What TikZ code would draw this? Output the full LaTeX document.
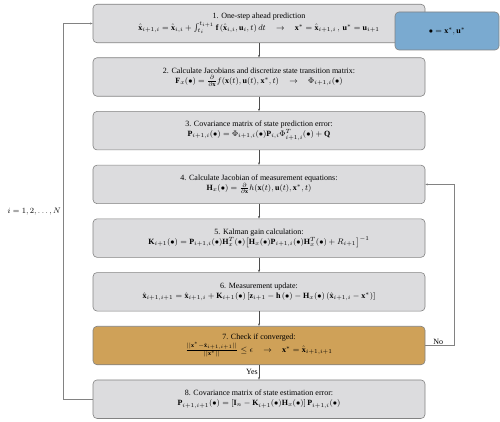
\documentclass[tikz,border=0pt]{standalone}
\usepackage{amsmath,amssymb}
\usepackage{fontspec}
\setmainfont{Liberation Serif}
\usetikzlibrary{arrows.meta}
\definecolor{boxgray}{RGB}{220,220,222}
\definecolor{boxline}{RGB}{130,130,130}
\definecolor{orangebox}{RGB}{207,161,88}
\definecolor{bluebox}{RGB}{122,170,208}
\begin{document}
\begin{tikzpicture}[x=1pt,y=1pt,
  stepbox/.style={draw=boxline, line width=0.6pt, fill=boxgray, rounded corners=4pt,
    minimum width=332pt, minimum height=38.5pt, align=center, inner sep=1pt,
    font=\fontsize{8}{10}\selectfont},
  conn/.style={draw=black!70, line width=0.5pt, -{Stealth[length=2.5pt,width=2pt]}},
  loopline/.style={draw=boxline, line width=0.6pt, -{Stealth[length=2.5pt,width=2pt]}},
  lbl/.style={font=\fontsize{8}{9.6}\selectfont, inner sep=1pt}]
\useasboundingbox (0,0) rectangle (500,-422);
\def\bul{\bullet}
\node[stepbox] (s1) at (259,-23.5) {1. One-step ahead prediction\\
 $\hat{\mathbf{x}}_{i+1,i}=\hat{\mathbf{x}}_{i,i}+\int_{t_i}^{t_{i+1}}\mathbf{f}\left(\hat{\mathbf{x}}_{i,i},\mathbf{u}_i,t\right)dt\quad\rightarrow\quad\mathbf{x}^*=\hat{\mathbf{x}}_{i+1,i}\,,\,\mathbf{u}^*=\mathbf{u}_{i+1}$};
\node[stepbox] (s2) at (259,-77) {2. Calculate Jacobians and discretize state transition matrix:\\
 $\mathbf{F}_x(\bul)=\frac{\partial}{\partial\mathbf{x}}f(\mathbf{x}(t),\mathbf{u}(t),\mathbf{x}^*,t)\quad\rightarrow\quad\Phi_{i+1,i}(\bul)$};
\node[stepbox] (s3) at (259,-130.7) {3. Covariance matrix of state prediction error:\\
 $\mathbf{P}_{i+1,i}(\bul)=\Phi_{i+1,i}(\bul)\mathbf{P}_{i,i}\Phi_{i+1,i}^{T}(\bul)+\mathbf{Q}$};
\node[stepbox] (s4) at (259,-184.4) {4. Calculate Jacobian of measurement equations:\\
 $\mathbf{H}_x(\bul)=\frac{\partial}{\partial\mathbf{x}}h(\mathbf{x}(t),\mathbf{u}(t),\mathbf{x}^*,t)$};
\node[stepbox] (s5) at (259,-238.1) {5. Kalman gain calculation:\\
 $\mathbf{K}_{i+1}(\bul)=\mathbf{P}_{i+1,i}(\bul)\mathbf{H}_x^T(\bul)\big[\mathbf{H}_x(\bul)\mathbf{P}_{i+1,i}(\bul)\mathbf{H}_x^T(\bul)+R_{i+1}\big]^{-1}$};
\node[stepbox] (s6) at (259,-291.8) {6. Measurement update:\\
 $\hat{\mathbf{x}}_{i+1,i+1}=\hat{\mathbf{x}}_{i+1,i}+\mathbf{K}_{i+1}(\bul)\left[\mathbf{z}_{i+1}-\mathbf{h}\left(\bul\right)-\mathbf{H}_x(\bul)\left(\hat{\mathbf{x}}_{i+1,i}-\mathbf{x}^*\right)\right]$};
\node[stepbox, fill=orangebox] (s7) at (259,-345.5) {7. Check if converged:\\
 $\frac{||\mathbf{x}^*-\hat{\mathbf{x}}_{i+1,i+1}||}{||\mathbf{x}^*||}\leq\epsilon\quad\rightarrow\quad\mathbf{x}^*=\hat{\mathbf{x}}_{i+1,i+1}$};
\node[stepbox] (s8) at (259,-399.2) {8. Covariance matrix of state estimation error:\\
 $\mathbf{P}_{i+1,i+1}(\bul)=\left[\mathbf{I}_n-\mathbf{K}_{i+1}(\bul)\mathbf{H}_x(\bul)\right]\mathbf{P}_{i+1,i}(\bul)$};
\node[stepbox, fill=bluebox, minimum width=104pt, minimum height=38pt] (blue) at (447,-31) {$\bul=\mathbf{x}^*,\mathbf{u}^*$};
\draw[conn] (s1) -- (s2);
\draw[conn] (s2) -- (s3);
\draw[conn] (s3) -- (s4);
\draw[conn] (s4) -- (s5);
\draw[conn] (s5) -- (s6);
\draw[conn] (s6) -- (s7);
\draw[conn] (s7) -- node[lbl, left, pos=0.45] {Yes} (s8);
\coordinate (lx) at (63,0);
\coordinate (rx) at (454,0);
\draw[loopline] (s8.west) -- (s8.west -| lx) -- node[lbl, left=1pt, pos=0.5] {$i=1,2,\ldots,N$} (s1.west -| lx) -- (s1.west);
\draw[loopline] (s7.east) -- node[lbl, above, pos=0.45] {No} (s7.east -| rx) -- (s4.east -| rx) -- (s4.east);
\end{tikzpicture}
\end{document}
